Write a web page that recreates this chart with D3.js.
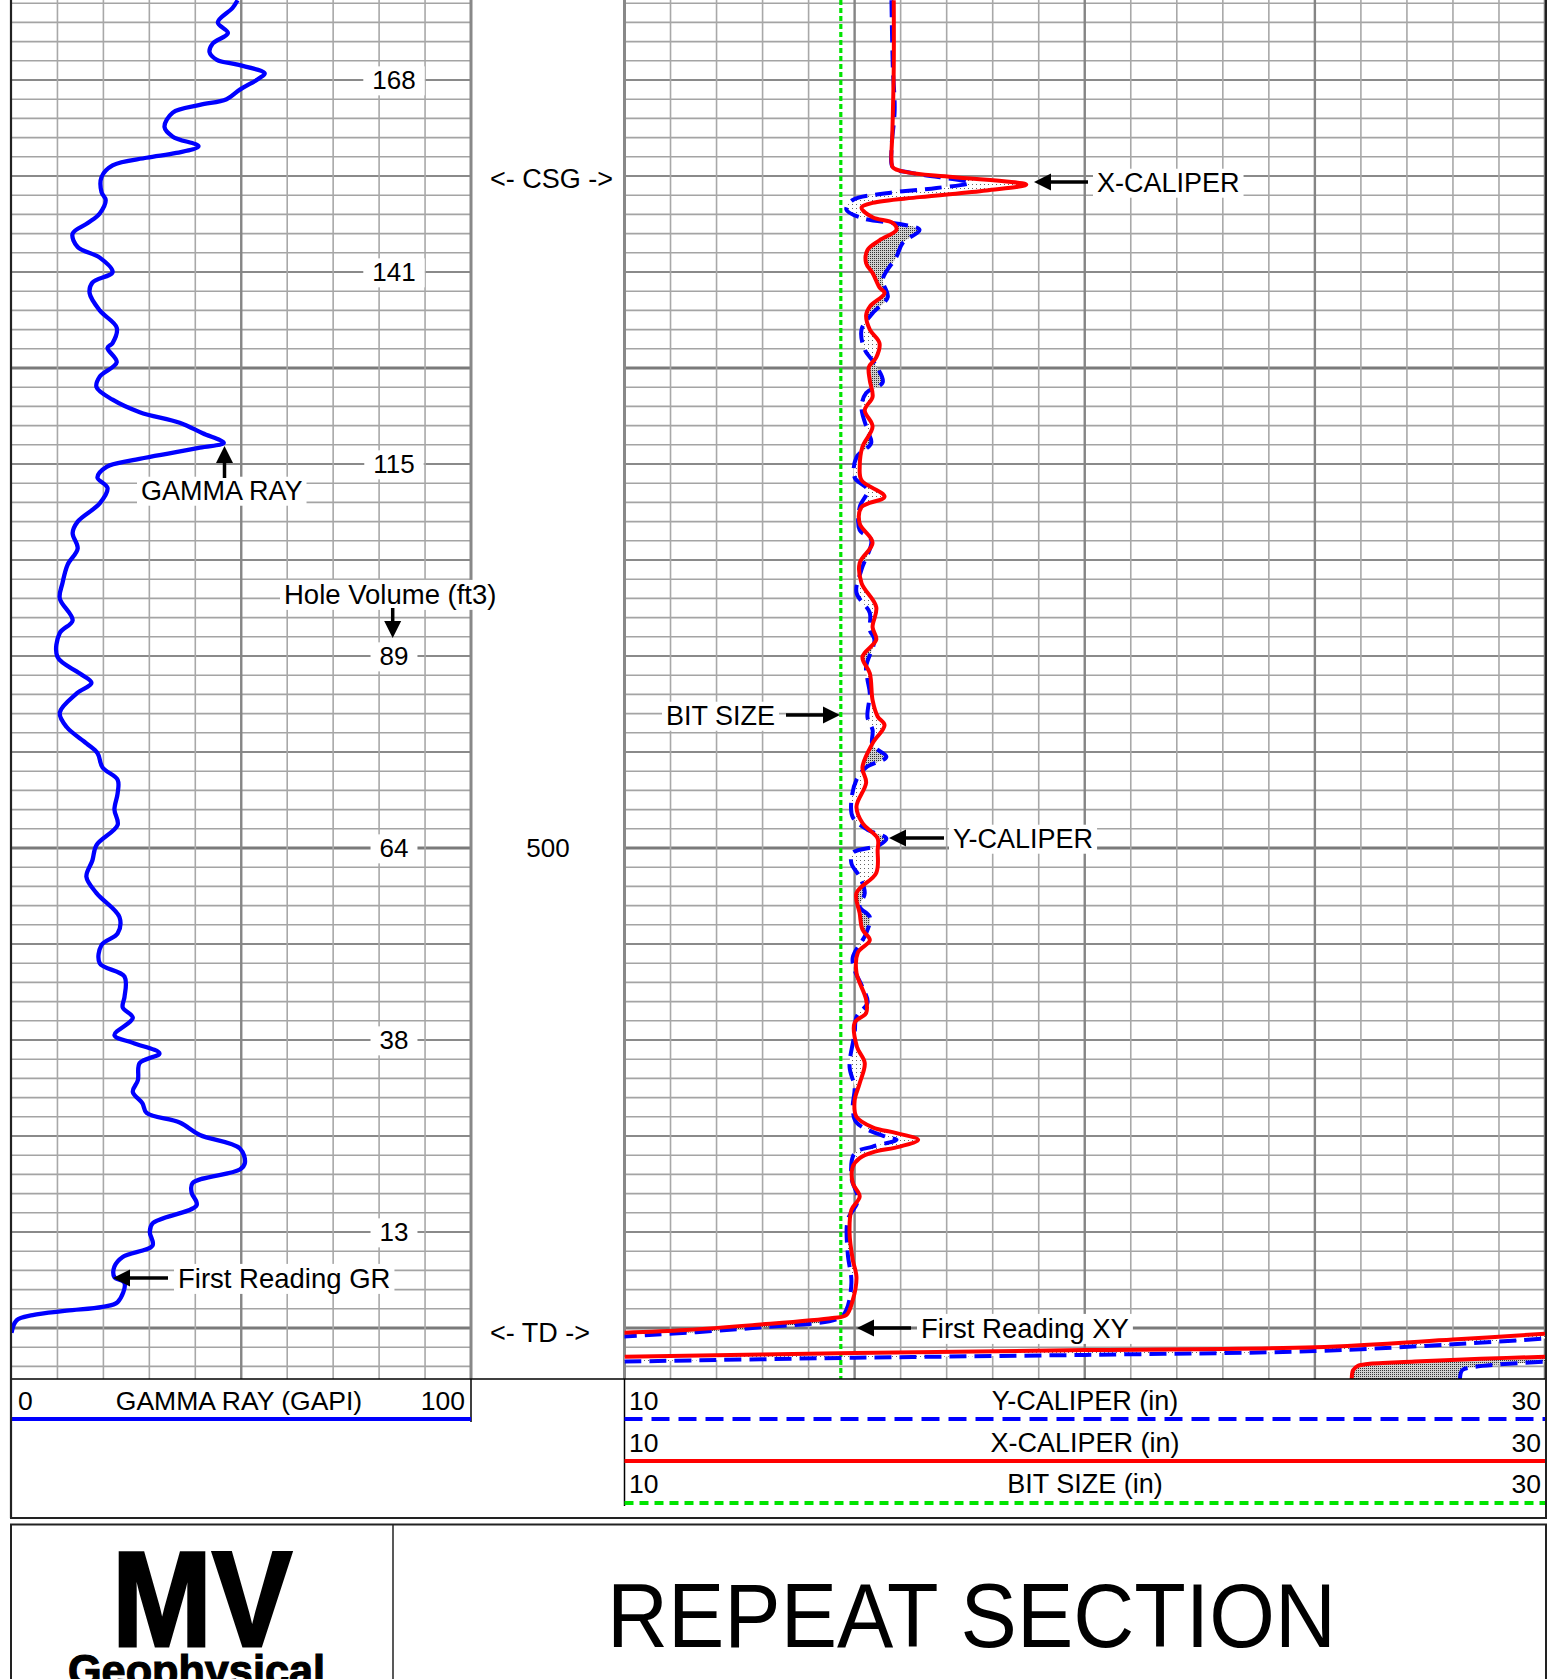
<!DOCTYPE html>
<html><head><meta charset="utf-8">
<script src="https://d3js.org/d3.v7.min.js"></script>
<style>html,body{margin:0;padding:0;background:#fff}svg{display:block}</style>
</head><body>
<svg id="chart" width="1554" height="1679"></svg>
<script>
// ---------------- DATA ----------------
const grDepth=[411.7,412.5,414.0,415.1,416.2,417.1,417.9,418.4,419.3,419.8,421.0,422.0,422.6,423.4,424.9,425.9,426.9,427.6,428.1,428.9,430.1,431.7,432.5,433.9,434.9,436.0,437.4,438.5,440.0,441.1,442.2,444.0,445.8,447.4,447.9,449.4,450.9,452.0,453.3,454.6,455.7,456.8,457.8,458.3,459.6,460.3,461.4,462.5,464.1,466.0,467.2,468.8,470.5,472.4,474.0,476.3,477.6,480.1,481.8,482.8,483.9,485.9,487.4,489.1,490.1,491.6,492.9,494.3,496.0,497.6,499.7,501.3,503.0,504.7,507.2,508.9,510.1,512.0,513.4,515.5,516.6,517.7,519.5,520.3,521.4,522.4,524.2,525.4,526.6,527.6,528.6,529.9,531.3,532.8,533.5,534.9,535.9,537.2,539.1,540.0,541.4,542.6,543.6,544.7,545.3,547.3,547.8,548.2,548.65,549.2,550.5];
const grValue=[49.2,48.1,44.9,47.1,43.8,43.1,44.7,49.2,55.1,54.0,49.7,46.8,41.0,35.1,33.3,35.1,40.7,35.9,29.4,22.0,19.6,19.6,20.5,19.2,16.6,13.3,14.4,19.2,22.0,17.6,17.0,19.2,22.9,22.0,20.9,22.9,19.2,18.5,22.0,27.9,36.6,41.6,46.2,41.0,26.4,20.7,18.7,20.9,19.2,14.4,13.3,14.4,12.2,11.1,10.5,13.3,10.5,10.0,14.8,17.4,14.2,10.5,12.0,16.3,18.7,19.8,23.1,23.1,22.4,23.1,18.5,17.6,16.3,18.5,23.5,23.1,19.6,19.2,24.6,24.6,24.2,26.4,22.4,26.4,32.2,27.9,27.5,26.4,28.5,29.4,36.6,41.0,49.7,50.8,49.7,39.4,39.2,40.3,30.7,30.1,30.7,24.2,22.4,22.4,24.6,23.1,19.8,12.0,4.6,1.1,0];

const xcalDepth=[411.7,418.7,425.5,428.3,429.1,429.6,430.1,430.9,431.5,432.2,432.8,433.3,434.3,434.9,435.6,436.7,437.7,439.1,440.1,441.6,442.2,443.6,444.5,446.0,447.4,448.9,449.9,451.3,453.0,454.4,456.1,458.2,460.3,461.7,463.4,464.5,466.2,468.2,470.3,472.4,474.9,477.0,478.3,480.1,481.8,484.6,486.3,487.2,489.1,491.6,493.2,495.7,497.4,499.0,500.2,502.6,504.7,506.8,508.5,509.6,510.9,513.0,515.8,517.2,518.2,520.7,522.4,524.5,526.3,528.0,529.1,529.7,530.4,531.1,531.7,532.3,533.2,534.9,536.3,537.7,540.1,542.9,544.7,547.1,548.65,548.96,549.7,550.2,550.5];
const xcalValue=[15.85,15.85,15.82,15.80,15.83,16.12,17.13,18.73,17.86,16.41,15.39,15.15,15.39,15.83,15.91,15.54,15.28,15.25,15.39,15.54,15.65,15.33,15.25,15.33,15.54,15.47,15.31,15.33,15.39,15.22,15.39,15.17,15.11,15.15,15.65,15.15,15.11,15.39,15.11,15.15,15.47,15.39,15.47,15.17,15.33,15.39,15.50,15.65,15.39,15.17,15.25,15.04,15.17,15.50,15.50,15.47,15.04,15.11,15.17,15.33,15.07,15.04,15.25,15.25,15.0,15.05,15.22,15.11,15.0,15.04,15.39,15.91,16.38,15.98,15.39,15.11,14.96,14.96,15.11,14.93,14.89,14.96,15.04,14.96,14.82,14.52,12.78,11.34,9.9];

const ycalDepth=[411.7,418.7,423.1,427.3,429.1,429.7,430.7,431.25,431.8,432.5,433.5,434.4,435.0,435.6,437.0,438.4,440.8,442.6,444.3,446.0,448.1,449.5,451.5,452.6,454.1,456.5,457.8,459.3,461.4,462.7,464.5,466.9,467.9,471.0,473.4,475.5,477.3,478.3,481.1,482.5,483.9,486.4,487.7,489.3,490.5,491.6,492.9,495.0,496.8,498.1,499.0,499.7,500.5,501.6,503.0,504.7,506.1,507.2,508.9,511.4,512.7,514.5,516.1,517.6,519.3,522.8,524.9,527.0,528.6,530.1,530.4,531.1,531.8,534.3,536.7,538.75,542.2,545.3,548.1,548.96,550.0,550.9];
const ycalValue=[15.80,15.83,15.87,15.80,15.83,16.26,17.50,16.78,15.69,14.96,14.82,15.17,15.98,16.41,16.04,15.91,15.61,15.72,15.39,15.15,15.22,15.43,15.61,15.25,15.15,15.28,15.36,15.04,15.0,15.28,15.11,15.11,15.36,15.15,15.04,15.33,15.33,15.43,15.25,15.28,15.33,15.28,15.39,15.39,15.69,15.25,15.04,14.93,14.96,15.28,15.69,15.54,14.96,14.93,15.11,15.22,15.11,15.33,15.25,14.96,15.0,15.17,15.28,15.04,15.0,14.89,15.0,14.96,15.04,15.69,15.91,15.39,15.0,14.93,15.07,14.85,14.85,14.93,14.82,14.67,12.78,9.96];

// wrapped (backup) portions of the caliper curves: [depth, value]
const xcalWrapA=[[553.0,10],[552.6,15],[552.3,20],[552.0,25],[551.2,28],[550.6,30]];
const ycalWrapA=[[553.5,10],[553.1,15],[552.8,20],[552.4,25],[551.7,28],[551.1,30]];
const xcalWrapB=[[555.5,25.8],[554.4,25.83],[553.96,25.93],[553.75,26.15],[553.5,27.17],[553.2,28.6],[553.0,30]];
const ycalWrapB=[[555.5,28.15],[554.4,28.2],[554.1,28.4],[553.8,29.0],[553.5,30]];

const bitSize=14.7;
const volDepth=[420,440,460,480,500,520,540];
const volLabel=["168","141","115","89","64","38","13"];
const depthLabelDepth=[500];
const depthLabel=["500"];
const csgDepth=430.2, tdDepth=550.4;

// ---------------- SETUP ----------------
const FONT='"Liberation Sans", Arial, Helvetica, sans-serif';
const svg=d3.select("#chart").style("font-family",FONT);
const TOP=0,BOT=1379;
const y=d3.scaleLinear().domain([500-848/9.6,500+(BOT-848)/9.6]).range([TOP,BOT]);
const xGR=d3.scaleLinear().domain([0,100]).range([11.5,471]);
const xCal=d3.scaleLinear().domain([10,30]).range([624.5,1545]);

const defs=svg.append("defs");
defs.append("clipPath").attr("id","clipGR").append("rect").attr("x",11.5).attr("y",TOP).attr("width",471-11.5).attr("height",BOT-TOP);
defs.append("clipPath").attr("id","clipCal").append("rect").attr("x",624.5).attr("y",TOP).attr("width",1545-624.5).attr("height",BOT-TOP);
const pd=defs.append("pattern").attr("id","dense").attr("width",2).attr("height",2).attr("patternUnits","userSpaceOnUse");
pd.append("rect").attr("width",2).attr("height",2).attr("fill","#d0d0d0");
pd.append("rect").attr("width",1).attr("height",1).attr("fill","#333");
const ps=defs.append("pattern").attr("id","sparse").attr("width",4).attr("height",4).attr("patternUnits","userSpaceOnUse");
ps.append("rect").attr("width",4).attr("height",4).attr("fill","#fff");
ps.append("rect").attr("width",1).attr("height",1).attr("fill","#666");

// ---------------- GRID ----------------
const gridDepths=d3.range(412,556,2);
function hStyle(d){ if(d%50===0) return ["#7a7a7a",3.2]; if(d%10===0) return ["#8a8a8a",2.2]; return ["#a4a4a4",1.6]; }
function drawGrid(xs,vVals,isMed){
  const [x0,x1]=xs.range();
  const g=svg.append("g");
  g.selectAll("line.h").data(gridDepths).join("line").attr("class","h")
    .attr("x1",x0).attr("x2",x1).attr("y1",d=>y(d)).attr("y2",d=>y(d))
    .attr("stroke",d=>hStyle(d)[0]).attr("stroke-width",d=>hStyle(d)[1]);
  g.selectAll("line.v").data(vVals).join("line").attr("class","v")
    .attr("x1",d=>xs(d)).attr("x2",d=>xs(d)).attr("y1",TOP).attr("y2",BOT)
    .attr("stroke",d=>isMed(d)?"#858585":"#a8a8a8").attr("stroke-width",d=>isMed(d)?2.4:1.6);
}
drawGrid(xGR,d3.range(10,100,10),d=>d===50);
drawGrid(xCal,d3.range(11,30,1),d=>d%5===0);
[[471],[624.5]].forEach(([x])=>svg.append("line").attr("x1",x).attr("x2",x).attr("y1",TOP).attr("y2",BOT).attr("stroke","#888").attr("stroke-width",3));
svg.append("line").attr("x1",1545).attr("x2",1545).attr("y1",TOP).attr("y2",BOT).attr("stroke","#777").attr("stroke-width",2.5);

// ---------------- CURVES ----------------
const curve=d3.curveCatmullRom.alpha(0.5);
const lineDV=d3.line().x(p=>p.x).y(p=>p.y).curve(curve);
const grPts=grDepth.map((d,i)=>({x:xGR(grValue[i]),y:y(d)}));
const xPts=xcalDepth.map((d,i)=>({x:xCal(xcalValue[i]),y:y(d)}));
const yPts=ycalDepth.map((d,i)=>({x:xCal(ycalValue[i]),y:y(d)}));
const toPts=arr=>arr.map(([d,v])=>({x:xCal(v),y:y(d)}));
const xA=toPts(xcalWrapA), yA=toPts(ycalWrapA), xB=toPts(xcalWrapB), yB=toPts(ycalWrapB);

function between(a,b){
  const p1=lineDV(a), p2=lineDV(b.slice().reverse());
  return p1+"L"+p2.slice(1)+"Z";
}
const calG=svg.append("g").attr("clip-path","url(#clipCal)");
const xPath=lineDV(xPts);
const lastX=xPts[xPts.length-1], firstX=xPts[0];
defs.append("clipPath").attr("id","rightOfX").append("path")
  .attr("d",xPath+`L${lastX.x},${lastX.y}L1700,${lastX.y}L1700,${firstX.y-5}L${firstX.x},${firstX.y-5}Z`);
defs.append("clipPath").attr("id","leftOfX").append("path")
  .attr("d",xPath+`L${lastX.x},${lastX.y}L400,${lastX.y+200}L400,${firstX.y-5}L${firstX.x},${firstX.y-5}Z`);
const mainFill=between(xPts,yPts);
calG.append("g").attr("clip-path","url(#leftOfX)").append("path").attr("d",mainFill).attr("fill","url(#sparse)").attr("fill-rule","evenodd");
calG.append("g").attr("clip-path","url(#rightOfX)").append("path").attr("d",mainFill).attr("fill","url(#dense)").attr("fill-rule","evenodd");
calG.append("path").attr("d",between(xA,yA)).attr("fill","url(#sparse)");
calG.append("path").attr("d",between(xB,yB)).attr("fill","url(#dense)");

calG.append("line").attr("x1",xCal(bitSize)).attr("x2",xCal(bitSize)).attr("y1",TOP).attr("y2",BOT)
  .attr("stroke","#00e400").attr("stroke-width",3.2).attr("stroke-dasharray","5,3");
[yPts,yA,yB].forEach(p=>calG.append("path").attr("d",lineDV(p)).attr("fill","none").attr("stroke","#0000ff")
  .attr("stroke-width",4).attr("stroke-dasharray","17,8"));
[xPts,xA,xB].forEach(p=>calG.append("path").attr("d",lineDV(p)).attr("fill","none").attr("stroke","#ff0000")
  .attr("stroke-width",4).attr("stroke-linejoin","round"));
svg.append("g").attr("clip-path","url(#clipGR)").append("path").attr("d",lineDV(grPts)).attr("fill","none")
  .attr("stroke","#0000ff").attr("stroke-width",4.3).attr("stroke-linejoin","round");

// ---------------- LABELS ----------------
function label(txt,x,yc,anchor,size,px){
  px=px??6;
  const g=svg.append("g");
  const t=g.append("text").attr("x",x).attr("y",yc).attr("dy","0.36em").attr("text-anchor",anchor).attr("font-size",size).attr("fill","#000").text(txt);
  const b=t.node().getBBox();
  g.insert("rect","text").attr("x",b.x-px).attr("y",b.y+1).attr("width",b.width+2*px).attr("height",b.height-1).attr("fill","#fff");
  return g;
}
function arrow(x1,y1,x2,y2){
  const a=Math.atan2(y2-y1,x2-x1),L=17,Wd=8.5;
  const bx=x2-L*Math.cos(a),by=y2-L*Math.sin(a);
  svg.append("line").attr("x1",x1).attr("y1",y1).attr("x2",bx).attr("y2",by).attr("stroke","#000").attr("stroke-width",3.5);
  svg.append("path").attr("d",`M${x2},${y2}L${bx+Wd*Math.sin(a)},${by-Wd*Math.cos(a)}L${bx-Wd*Math.sin(a)},${by+Wd*Math.cos(a)}Z`).attr("fill","#000");
}
volDepth.forEach((d,i)=>label(volLabel[i],394,y(d),"middle",26,9));
depthLabelDepth.forEach((d,i)=>label(depthLabel[i],548,y(d),"middle",26,6));
label("<- CSG ->",490,y(csgDepth),"start",27,4);
label("<- TD ->",490,y(tdDepth),"start",27,4);
label("Hole Volume (ft3)",284,594,"start",27.5,4);
arrow(392.7,608,392.7,638);
label("GAMMA RAY",141,490,"start",27,4);
arrow(224.5,478,224.5,446);
label("First Reading GR",178,1278,"start",27.5,4);
arrow(168,1278,113,1278);
label("X-CALIPER",1097,182,"start",27,4);
arrow(1088,182,1034,182);
label("BIT SIZE",666,715,"start",27,4);
arrow(786,715,840,715);
label("Y-CALIPER",953,838,"start",27,4);
arrow(944,838,889,838);
label("First Reading XY",921,1328,"start",27.5,4);
arrow(911,1328,857,1328);

// ---------------- HEADER / FRAME ----------------
const ln=(x1,y1,x2,y2,c,w,da)=>{const l=svg.append("line").attr("x1",x1).attr("y1",y1).attr("x2",x2).attr("y2",y2).attr("stroke",c).attr("stroke-width",w);if(da)l.attr("stroke-dasharray",da);return l;};
ln(10,1379,1546,1379,"#000",1.5);
ln(471,1379,471,1422,"#000",1.5);
ln(624.5,1379,624.5,1506,"#000",1.5);
ln(11.5,1419,471,1419,"#0000ff",4);
const txt=(s,x,yc,anchor,size)=>svg.append("text").attr("x",x).attr("y",yc).attr("dy","0.36em").attr("text-anchor",anchor).attr("font-size",size).text(s);
txt("0",18,1400,"start",26.5);
txt("GAMMA RAY (GAPI)",239,1400,"middle",26.5);
txt("100",465,1400,"end",26.5);
const calHeads=[["Y-CALIPER (in)",1400,1419,"#0000ff","18,9"],["X-CALIPER (in)",1442,1461,"#ff0000",null],["BIT SIZE (in)",1483,1503,"#00e400","9,6"]];
calHeads.forEach(([name,yt,yl,c,da])=>{
  txt("10",629,yt,"start",26.5);
  txt(name,1085,yt,"middle",27);
  txt("30",1541,yt,"end",26.5);
  ln(624.5,yl,1545,yl,c,4,da);
});
ln(11,0,11,1518,"#222",2.2);
ln(1546,0,1546,1518,"#222",2);
ln(10,1518,1547,1518,"#222",2);
ln(10,1524.5,1547,1524.5,"#222",2);
ln(11,1524,11,1679,"#222",2);
ln(1546,1524,1546,1679,"#222",2);
ln(393,1524,393,1679,"#222",1.5);
svg.append("text").attr("x",202).attr("y",1646).attr("text-anchor","middle").attr("font-size",136).attr("font-weight","bold")
  .attr("textLength",180).attr("lengthAdjust","spacingAndGlyphs").attr("stroke","#000").attr("stroke-width",3).text("MV");
svg.append("text").attr("x",68).attr("y",1686).attr("font-size",44).attr("font-weight","bold")
  .attr("textLength",257).attr("lengthAdjust","spacingAndGlyphs").attr("stroke","#000").attr("stroke-width",1.2).text("Geophysical");
svg.append("text").attr("x",607).attr("y",1647).attr("font-size",91)
  .attr("textLength",729).attr("lengthAdjust","spacingAndGlyphs").text("REPEAT SECTION");
</script>
</body></html>
